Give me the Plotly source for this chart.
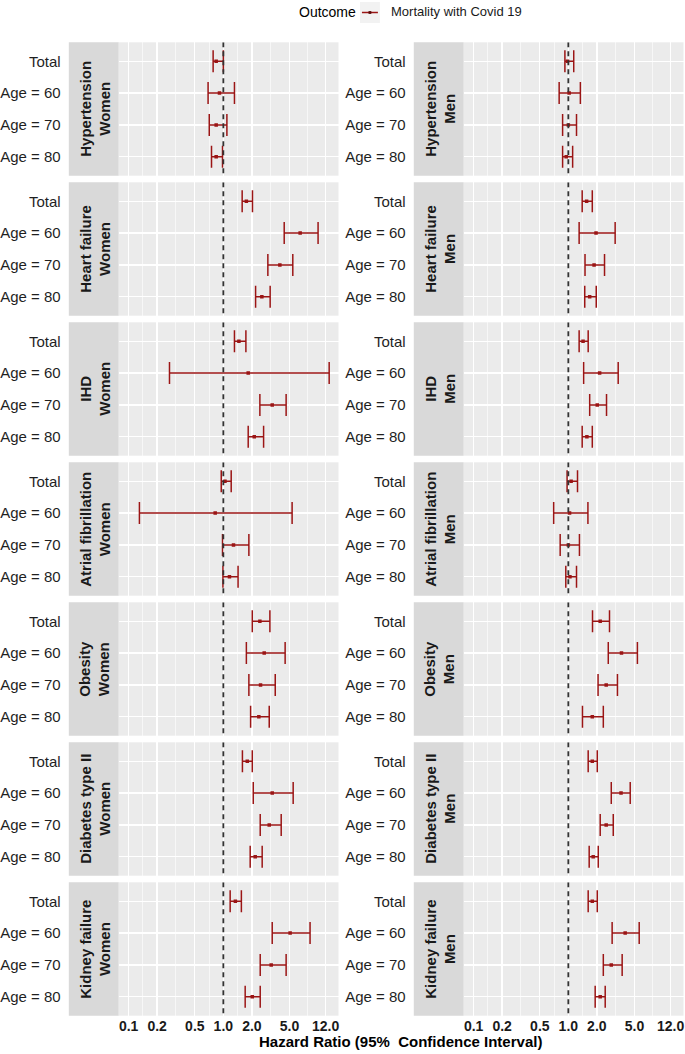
import math
import plotly.graph_objects as go

# ---------------- data ----------------
conditions = ["Hypertension", "Heart failure", "IHD", "Atrial fibrillation",
              "Obesity", "Diabetes type II", "Kidney failure"]
sexes = ["Women", "Men"]
groups = ["Total", "Age = 60", "Age = 70", "Age = 80"]

women_hr = [[0.84, 0.91, 0.84, 0.84],
            [1.75, 6.47, 3.95, 2.55],
            [1.46, 1.83, 3.28, 2.12],
            [1.04, 0.82, 1.28, 1.16],
            [2.43, 2.70, 2.47, 2.37],
            [1.79, 3.28, 3.05, 2.17],
            [1.34, 5.07, 3.20, 2.02]]
women_lo = [[0.78, 0.69, 0.71, 0.75],
            [1.58, 4.39, 2.95, 2.19],
            [1.31, 0.27, 2.43, 1.83],
            [0.95, 0.13, 0.98, 0.99],
            [2.02, 1.75, 1.86, 1.94],
            [1.59, 2.07, 2.45, 1.92],
            [1.18, 3.28, 2.45, 1.70]]
women_hi = [[1.00, 1.31, 1.09, 0.98],
            [2.03, 10.0, 5.41, 3.12],
            [1.73, 13.1, 4.60, 2.66],
            [1.21, 5.32, 1.86, 1.43],
            [3.10, 4.49, 3.53, 3.05],
            [2.02, 5.46, 4.08, 2.57],
            [1.55, 8.23, 4.60, 2.45]]

men_hr = [[0.98, 1.02, 1.00, 0.95],
          [1.56, 1.96, 1.87, 1.68],
          [1.43, 2.14, 2.02, 1.57],
          [1.07, 1.03, 1.00, 1.04],
          [2.17, 3.64, 2.51, 1.79],
          [1.79, 3.60, 2.51, 1.83],
          [1.79, 3.98, 2.84, 2.17]]
men_lo = [[0.92, 0.80, 0.87, 0.87],
          [1.40, 1.30, 1.50, 1.49],
          [1.30, 1.45, 1.68, 1.40],
          [0.97, 0.70, 0.82, 0.94],
          [1.80, 2.64, 2.06, 1.41],
          [1.62, 2.84, 2.17, 1.66],
          [1.62, 2.90, 2.34, 1.92]]
men_hi = [[1.14, 1.34, 1.22, 1.11],
          [1.79, 3.12, 2.41, 1.97],
          [1.62, 3.36, 2.53, 1.79],
          [1.25, 1.61, 1.31, 1.22],
          [2.72, 5.36, 3.30, 2.34],
          [2.02, 4.50, 2.98, 2.07],
          [2.02, 5.60, 3.70, 2.45]]

x_ticks = [0.1, 0.2, 0.5, 1.0, 2.0, 5.0, 12.0]
x_ticklabels = ["0.1", "0.2", "0.5", "1.0", "2.0", "5.0", "12.0"]
reference_hr = 1.0

outcome_title = "Outcome"
outcome_name = "Mortality with Covid 19"
x_title = "Hazard Ratio (95%\u00a0 Confidence Interval)"

# ---------------- layout constants ----------------
W, H = 685, 1054
FONT = "Liberation Sans, Arial, Helvetica, sans-serif"
RED = "#9B1515"
PANEL_BG = "#EBEBEB"
STRIP_BG = "#D9D9D9"

panel_x0 = [118.0, 464.0]
panel_w = 220.5
strip_w = 50.0
row_top0 = 42.3
row_pitch = 140.0
panel_h = 133.4
px_per_decade = 95.0
one_offset = 105.0  # px from panel left to HR = 1

xr = [(-one_offset) / px_per_decade, (panel_w - one_offset) / px_per_decade]

# geometric midpoints between major ticks -> minor gridlines (ggplot style)
minor_vals = [math.sqrt(a * b) for a, b in zip(x_ticks[:-1], x_ticks[1:])]

fig = go.Figure()
shapes = []
annotations = []
layout_axes = {}

hr_sets = [women_hr, men_hr]
lo_sets = [women_lo, men_lo]
hi_sets = [women_hi, men_hi]

ypos = list(range(1, len(groups) + 1))

for r, cond in enumerate(conditions):
    top = row_top0 + r * row_pitch
    bot = top + panel_h
    ydom = [1 - bot / H, 1 - top / H]
    for c, sex in enumerate(sexes):
        k = r * 2 + c + 1
        xid = "x" if k == 1 else f"x{k}"
        yid = "y" if k == 1 else f"y{k}"
        xkey = "xaxis" if k == 1 else f"xaxis{k}"
        ykey = "yaxis" if k == 1 else f"yaxis{k}"
        x0 = panel_x0[c]
        xdom = [x0 / W, min(1.0, (x0 + panel_w) / W)]
        last_row = (r == len(conditions) - 1)

        layout_axes[xkey] = dict(
            domain=xdom, anchor=yid, type="log", range=xr,
            tickmode="array", tickvals=x_ticks,
            ticktext=[f"<b>{t}</b>" for t in x_ticklabels],
            showticklabels=last_row,
            tickfont=dict(family=FONT, size=14, color="#1a1a1a"),
            showgrid=True, gridcolor="white", gridwidth=1.3,
            minor=dict(tickvals=minor_vals, showgrid=True,
                       gridcolor="white", gridwidth=0.6, ticks=""),
            zeroline=False, showline=False, ticks="", fixedrange=True,
        )
        layout_axes[ykey] = dict(
            domain=ydom, anchor=xid, range=[len(groups) + 0.6, 0.4],
            tickmode="array", tickvals=ypos, ticktext=groups,
            tickfont=dict(family=FONT, size=15, color="#1f1f1f"),
            ticklabelstandoff=int(strip_w + 7),
            showgrid=True, gridcolor="white", gridwidth=1.3,
            zeroline=False, showline=False, ticks="", fixedrange=True,
        )

        hr = hr_sets[c][r]
        lo = lo_sets[c][r]
        hi = hi_sets[c][r]
        fig.add_trace(go.Scatter(
            x=hr, y=ypos, xaxis=xid, yaxis=yid, mode="markers",
            marker=dict(symbol="square", size=3.5, color=RED),
            error_x=dict(type="data", symmetric=False,
                         array=[h - e for h, e in zip(hi, hr)],
                         arrayminus=[e - l for e, l in zip(hr, lo)],
                         color=RED, thickness=1.5, width=11),
            showlegend=False, hoverinfo="skip",
        ))
        # reference line at HR = 1
        fig.add_trace(go.Scatter(
            x=[reference_hr, reference_hr], y=[0.4, len(groups) + 0.6],
            xaxis=xid, yaxis=yid, mode="lines",
            line=dict(color="#333333", width=1.8, dash="5px,4px"),
            showlegend=False, hoverinfo="skip",
        ))

        # strip on the left of the panel
        sx0 = x0 - strip_w
        shapes.append(dict(type="rect", xref="paper", yref="paper",
                           x0=sx0 / W, x1=x0 / W, y0=ydom[0], y1=ydom[1],
                           fillcolor=STRIP_BG, line=dict(width=0), layer="below"))
        annotations.append(dict(
            xref="paper", yref="paper", x=(sx0 + strip_w / 2 + 1) / W,
            y=(ydom[0] + ydom[1]) / 2, text=f"<b>{cond}<br>{sex}</b>",
            textangle=-90, showarrow=False, xanchor="center", yanchor="middle",
            font=dict(family=FONT, size=15, color="#1a1a1a"), align="center"))

# x axis title
annotations.append(dict(
    xref="paper", yref="paper", x=401 / W, y=1 - 1041 / H,
    text=f"<b>{x_title}</b>", showarrow=False, xanchor="center", yanchor="middle",
    font=dict(family=FONT, size=15, color="#000000")))

# legend (ggplot style, top)
annotations.append(dict(
    xref="paper", yref="paper", x=297 / W, y=1 - 12 / H, text=outcome_title,
    showarrow=False, xanchor="left", yanchor="middle",
    font=dict(family=FONT, size=14, color="#000000")))
shapes.append(dict(type="rect", xref="paper", yref="paper",
                   x0=360 / W, x1=380 / W, y0=1 - 23 / H, y1=1 - 2 / H,
                   fillcolor="#F2F2F2", line=dict(width=0)))
shapes.append(dict(type="line", xref="paper", yref="paper",
                   x0=362 / W, x1=378 / W, y0=1 - 12.5 / H, y1=1 - 12.5 / H,
                   line=dict(color=RED, width=1.5)))
shapes.append(dict(type="rect", xref="paper", yref="paper",
                   x0=368.6 / W, x1=371.4 / W, y0=1 - 13.9 / H, y1=1 - 11.1 / H,
                   fillcolor="#5a0a0a", line=dict(width=0)))
annotations.append(dict(
    xref="paper", yref="paper", x=389 / W, y=1 - 12 / H, text=outcome_name,
    showarrow=False, xanchor="left", yanchor="middle",
    font=dict(family=FONT, size=13, color="#1a1a1a")))

fig.update_layout(
    width=W, height=H,
    margin=dict(l=0, r=0, t=0, b=0),
    paper_bgcolor="white", plot_bgcolor=PANEL_BG,
    font=dict(family=FONT),
    shapes=shapes, annotations=annotations,
    showlegend=False,
    **layout_axes,
)

fig.write_html(
    "out.html",
    config={"displayModeBar": False, "staticPlot": True},
    post_script="document.body.style.margin='0';document.body.style.overflow='hidden';",
)
